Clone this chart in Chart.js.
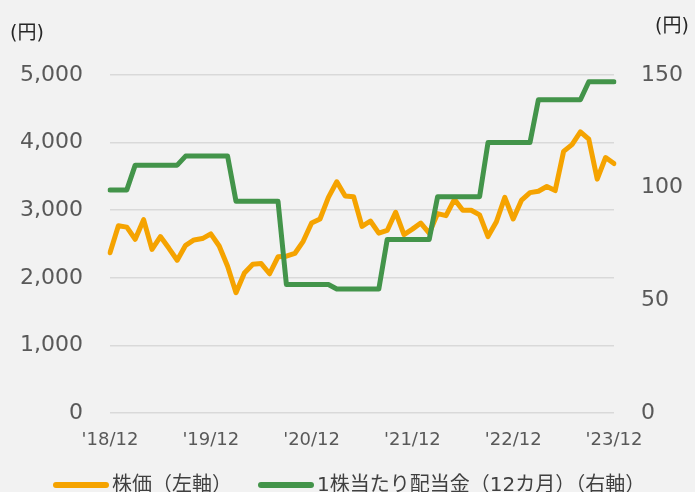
<!DOCTYPE html>
<html>
<head>
<meta charset="utf-8">
<script src="https://cdn.jsdelivr.net/npm/chart.js@4"></script>
<style>
  html, body { margin: 0; padding: 0; background: #f2f2f2; }
  #wrap { position: relative; width: 695px; height: 492px; overflow: hidden; }
  .unit { position: absolute; font-family: "DejaVu Sans", "Noto Sans CJK JP", sans-serif; font-size: 19px; line-height: 20px; color: #262626; }
  .leg { position: absolute; top: 469px; height: 26px; display: flex; align-items: center;
         font-family: "DejaVu Sans", "Noto Sans CJK JP", sans-serif; font-size: 20px; color: #404040; white-space: nowrap; }
  .sw { display: inline-block; width: 56px; height: 6px; border-radius: 3px; margin-right: 3px; position: relative; top: 3px; }
</style>
</head>
<body>
<div id="wrap">
  <canvas id="chart" width="695" height="492"></canvas>
  <div class="unit" style="left:10px; top:22px;">(円)</div>
  <div class="unit" style="left:655px; top:15px;">(円)</div>
  <div id="legend"></div>
</div>
<script>
// 月次データ '18/12 〜 '23/12
const tickLabels = ["'18/12", "'19/12", "'20/12", "'21/12", "'22/12", "'23/12"];
const startYear = 18;

// 株価（左軸）
const stockPrice = [
  2370, 2770, 2750, 2570, 2860, 2420, 2610, 2440, 2260, 2480, 2560, 2580, 2650,
  2470, 2170, 1780, 2070, 2200, 2210, 2060, 2310, 2320, 2360, 2540, 2810, 2870,
  3190, 3420, 3210, 3200, 2760, 2840, 2660, 2700, 2970, 2640, 2720, 2810, 2660,
  2950, 2920, 3160, 3000, 3000, 2930, 2610, 2830, 3190, 2870, 3150, 3260, 3280,
  3350, 3290, 3870, 3970, 4160, 4050, 3460, 3780, 3690
];

// 1株当たり配当金（12カ月）（右軸）
const dividend = [
  99, 99, 99, 110, 110, 110, 110, 110, 110, 114, 114, 114, 114, 114, 114,
  94, 94, 94, 94, 94, 94, 57, 57, 57, 57, 57, 57, 55, 55, 55, 55, 55, 55,
  77, 77, 77, 77, 77, 77, 96, 96, 96, 96, 96, 96, 120, 120, 120, 120, 120, 120,
  139, 139, 139, 139, 139, 139, 147, 147, 147, 147
];

const leftTicks = [0, 1000, 2000, 3000, 4000, 5000];
const rightTicks = [0, 50, 100, 150];

const labels = stockPrice.map((_, i) => {
  const m = (11 + i) % 12 + 1;
  const y = startYear + Math.floor((11 + i) / 12);
  return "'" + y + '/' + m;
});

const fontFamily = '"DejaVu Sans", "Noto Sans CJK JP", sans-serif';
const tickColor = '#595959';

const chart = new Chart(document.getElementById('chart'), {
  type: 'line',
  data: {
    labels: labels,
    datasets: [
      {
        label: '株価（左軸）',
        data: stockPrice,
        borderColor: '#f5a300',
        backgroundColor: '#f5a300',
        borderWidth: 5,
        yAxisID: 'y',
        order: 1
      },
      {
        label: '1株当たり配当金（12カ月）（右軸）',
        data: dividend,
        borderColor: '#43944a',
        backgroundColor: '#43944a',
        borderWidth: 5,
        yAxisID: 'y1',
        order: 0
      }
    ]
  },
  options: {
    responsive: false,
    animation: false,
    layout: { padding: { top: 75, left: 0, right: 0, bottom: 44 } },
    elements: {
      point: { radius: 0 },
      line: { tension: 0, borderJoinStyle: 'round', borderCapStyle: 'round' }
    },
    plugins: {
      tooltip: { enabled: false },
      legend: { display: false }
    },
    scales: {
      x: {
        offset: false,
        grid: { display: false, drawTicks: false },
        border: { display: false },
        afterFit: s => { s.height = 35; },
        ticks: {
          autoSkip: false,
          maxRotation: 0,
          padding: 17,
          color: tickColor,
          font: { family: fontFamily, size: 18 },
          callback: function (v, i) { return i % 12 === 0 ? tickLabels[i / 12] : null; }
        }
      },
      y: {
        position: 'left',
        min: 0,
        max: 5000,
        afterBuildTicks: s => { s.ticks = leftTicks.map(v => ({ value: v })); },
        afterFit: s => { s.width = 110; },
        grid: { color: '#d9d9d9', lineWidth: 1.5, drawTicks: false },
        border: { display: false },
        ticks: {
          padding: 27,
          color: tickColor,
          font: { family: fontFamily, size: 22 },
          callback: v => v.toLocaleString('en-US')
        }
      },
      y1: {
        position: 'right',
        min: 0,
        max: 150,
        afterBuildTicks: s => { s.ticks = rightTicks.map(v => ({ value: v })); },
        afterFit: s => { s.width = 81; },
        grid: { display: false, drawTicks: false },
        border: { display: false },
        ticks: {
          padding: 27,
          color: tickColor,
          font: { family: fontFamily, size: 22 }
        }
      }
    }
  }
});

// 凡例（HTML）
const legendX = [53, 258];
const legend = document.getElementById('legend');
chart.data.datasets.forEach((ds, i) => {
  const item = document.createElement('div');
  item.className = 'leg';
  item.style.left = legendX[i] + 'px';
  item.innerHTML = '<span class="sw" style="background:' + ds.borderColor + '"></span>' + ds.label;
  legend.appendChild(item);
});
</script>
</body>
</html>
